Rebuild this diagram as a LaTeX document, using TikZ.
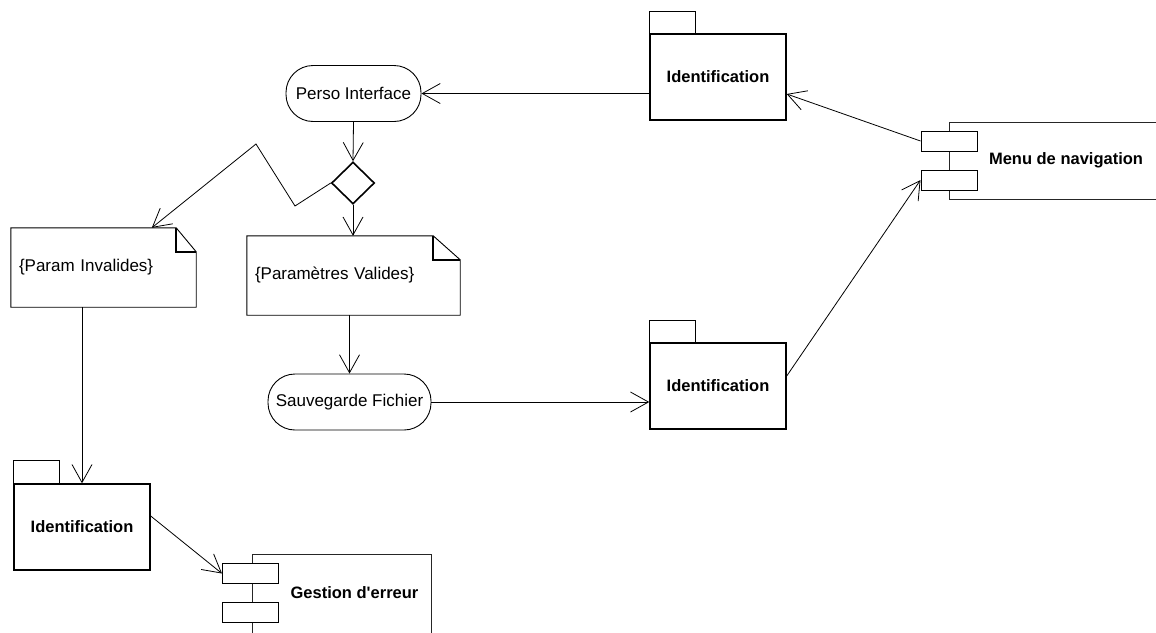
\documentclass[tikz,border=0pt]{standalone}
\usepackage{fontspec}
\setmainfont{Liberation Sans}
\usetikzlibrary{arrows.meta,shapes.geometric}
\tikzset{
  conn/.style={draw, line width=0.8pt, -{Straight Barb[length=18pt,width=20pt,line width=0.8pt]}},
  actbox/.style={draw, line width=0.9pt, rectangle, rounded corners=27pt, inner sep=0pt, font=\fontsize{17}{20}\selectfont},
  pkgbody/.style={draw, line width=1.4pt, rectangle, inner sep=0pt, minimum width=136pt, minimum height=86pt, font=\bfseries\fontsize{16.5}{20}\selectfont},
  pkgtab/.style={draw, line width=1.4pt},
  notebox/.style={rectangle, inner sep=0pt, inner xsep=8pt, align=left, font=\fontsize{17}{20}\selectfont},
  noteline/.style={draw, line width=0.9pt},
  notefold/.style={draw, line width=1.6pt},
  compline/.style={draw, line width=1pt, black!85},
  port/.style={draw, line width=1pt, fill=white, rectangle, inner sep=0pt, minimum width=56pt, minimum height=20pt},
  comptext/.style={font=\bfseries\fontsize{16.5}{20}\selectfont, inner sep=0pt},
  decision/.style={draw, line width=1.6pt, diamond, inner sep=0pt, minimum width=43pt, minimum height=42pt}
}
\begin{document}
\begin{tikzpicture}[x=1pt,y=-1pt]
\useasboundingbox (0,0) rectangle (1156,632);

% activities
\node[actbox, minimum width=135pt, minimum height=56pt] (perso) at (353.5,93.5) {Perso Interface};
\node[actbox, minimum width=163pt, minimum height=56pt] (sauve) at (349.5,402) {Sauvegarde Fichier};

% decision
\node[decision] (dec) at (353,183) {};

% packages
\node[pkgbody] (id1) at (718,77) {Identification};
\draw[pkgtab] (id1.north west) rectangle ++(46,-22);
\node[pkgbody] (id2) at (718,386) {Identification};
\draw[pkgtab] (id2.north west) rectangle ++(46,-22);
\node[pkgbody] (id3) at (82,527) {Identification};
\draw[pkgtab] (id3.north west) rectangle ++(46,-23);

% notes
\node[notebox, minimum width=185pt, minimum height=79pt, text width=169pt] (pinv) at (103.5,267.5) {\{Param Invalides\}};
\draw[noteline] (pinv.north west) -- ([xshift=-20pt]pinv.north east) -- ([yshift=-24pt]pinv.north east) -- (pinv.south east) -- (pinv.south west) -- cycle;
\draw[notefold] ([xshift=-20pt]pinv.north east) -- ([xshift=-20pt,yshift=-24pt]pinv.north east) -- ([yshift=-24pt]pinv.north east);

\node[notebox, minimum width=213pt, minimum height=79pt, text width=197pt] (pval) at (353.5,275.5) {\{Paramètres Valides\}};
\draw[noteline] (pval.north west) -- ([xshift=-27pt]pval.north east) -- ([yshift=-24pt]pval.north east) -- (pval.south east) -- (pval.south west) -- cycle;
\draw[notefold] ([xshift=-27pt]pval.north east) -- ([xshift=-27pt,yshift=-24pt]pval.north east) -- ([yshift=-24pt]pval.north east);

% component: Menu de navigation
\coordinate (menuA) at (1160,122);
\coordinate (menuB) at (949,122);
\coordinate (menuC) at (949,199);
\coordinate (menuD) at (1160,199);
\draw[compline] (menuA) -- (menuB) -- (menuC) -- (menuD);
\node[port] (mp1) at (949,141) {};
\node[port] (mp2) at (949,180) {};
\node[comptext] (menu) at (1066,160) {Menu de navigation};

% component: Gestion d'erreur
\coordinate (gesA) at (252,640);
\coordinate (gesB) at (252,554);
\coordinate (gesC) at (431.5,554);
\coordinate (gesD) at (431.5,640);
\draw[compline] (gesA) -- (gesB) -- (gesC) -- (gesD);
\node[port] (gp1) at (250.5,573.5) {};
\node[port] (gp2) at (250.5,612.5) {};
\node[comptext] (ges) at (354.5,593) {Gestion d\textquotesingle erreur};

% connectors
\draw[conn] (id1.west |- perso.east) -- (perso.east);
\draw[conn] (perso.south) -- (dec.north);
\coordinate (z1) at (295,206);
\coordinate (z2) at (256,144);
\draw[conn] (dec.west) -- (z1) -- (z2) -- ([xshift=141pt]pinv.north west);
\draw[conn] (dec.south) -- (dec.south |- pval.north);
\draw[conn] (pval.south -| sauve.north) -- (sauve.north);
\draw[conn] (sauve.east) -- (id2.west |- sauve.east);
\draw[conn] (mp1.west) -- ([yshift=-17pt]id1.east);
\draw[conn] ([yshift=10pt]id2.east) -- (mp2.west);
\draw[conn] (pinv.south -| id3.north) -- (id3.north);
\draw[conn] ([yshift=11pt]id3.east) -- (gp1.west);
\end{tikzpicture}
\end{document}
